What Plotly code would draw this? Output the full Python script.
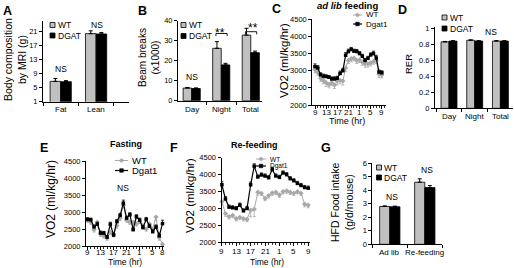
import plotly.graph_objects as go

W, H = 514, 268
FONT = "Liberation Sans, Arial, sans-serif"
BAR_GRAY = "#c0c0c0"
LINE_GRAY = "#a8a8a8"

# ---------------- data ----------------
a_categories = ["Fat", "Lean"]
a_wt = [6.8, 20.4]
a_wt_err = [0.8, 0.8]
a_dgat = [6.7, 20.3]
a_dgat_err = [0.3, 0.4]
a_yticks = [1, 5, 9, 13, 17, 21]

b_categories = ["Day", "Night", "Total"]
b_wt = [6.3, 26.2, 32.8]
b_wt_err = [0.3, 3.3, 3.4]
b_dgat = [6.1, 17.9, 24.0]
b_dgat_err = [0.3, 0.8, 0.8]
b_yticks = [0, 10, 20, 30, 40]

c_hours = [9, 10, 11, 12, 13, 14, 15, 16, 17, 18, 19, 20, 21, 22, 23, 24, 25, 26, 27, 28, 29, 30, 31, 32, 33]
c_wt = [3030, 2950, 2780, 2720, 2650, 2600, 2650, 2580, 2700, 2720, 2700, 3080, 3300, 3350, 3370, 3300,
        3320, 3250, 3200, 3200, 3230, 3270, 3300, 2900, 2880]
c_wt_err = [90, 80, 90, 100, 110, 100, 90, 100, 110, 100, 120, 100, 90, 90, 80, 90, 80, 90, 100, 90,
            90, 80, 90, 100, 90]
c_dgat = [3120, 3080, 2880, 2840, 2830, 2810, 2760, 2760, 2780, 2920, 3000, 3450, 3560, 3620, 3570, 3560,
          3500, 3420, 3300, 3360, 3460, 3500, 3370, 2960, 2940]
c_dgat_err = [80, 70, 60, 60, 50, 50, 60, 60, 60, 70, 70, 80, 70, 60, 60, 60, 60, 60, 60, 60, 60, 70,
              80, 60, 60]
c_tickvals = [9, 13, 17, 21, 25, 29, 33]
c_ticktext = ["9", "13", "17", "21", "1", "5", "9"]

d_categories = ["Day", "Night", "Total"]
d_wt = [0.83, 0.85, 0.84]
d_wt_err = [0.005, 0.005, 0.005]
d_dgat = [0.84, 0.84, 0.84]
d_dgat_err = [0.004, 0.004, 0.004]
d_yticks = [0, 0.2, 0.4, 0.6, 0.8, 1]

e_hours = [9, 10, 11, 12, 13, 14, 15, 16, 17, 18, 19, 20, 21, 22, 23, 24, 25, 26, 27, 28, 29, 30, 31, 32]
e_wt = [2760, 2700, 2480, 2700, 2350, 2300, 2230, 2400, 2330, 2600, 2820, 3200, 2760, 2700, 2700, 2650,
        2720, 2600, 2500, 2650, 2500, 2850, 2250, 2050]
e_wt_err = [60, 60, 70, 60, 70, 60, 60, 60, 60, 80, 70, 80, 60, 60, 70, 60, 60, 60, 60, 70, 70, 90, 80, 60]
e_dgat = [2780, 2770, 2560, 2640, 2380, 2380, 2260, 2640, 2320, 2720, 2900, 3260, 2820, 2920, 2480, 2860,
          2760, 2540, 2780, 2580, 2420, 2560, 2300, 2660]
e_dgat_err = [50, 50, 60, 60, 60, 50, 50, 60, 50, 60, 60, 90, 60, 60, 60, 60, 60, 60, 60, 60, 60, 60, 80, 100]
e_tickvals = [9, 13, 17, 21, 25, 29, 32]
e_ticktext = ["9", "13", "17", "21", "1", "5", "8"]

f_hours = [9, 10, 11, 12, 13, 14, 15, 16, 17, 18, 19, 20, 21, 22, 23, 24, 25, 26, 27, 28, 29, 30, 31, 32, 33]
f_wt = [3200, 2850, 2760, 2800, 2700, 2740, 2700, 2680, 2950, 2980, 3480, 3450, 3300, 3380, 3460, 3480,
        3400, 3500, 3520, 3480, 3450, 3500, 3450, 3130, 3100]
f_wt_err = [90, 80, 70, 70, 70, 70, 70, 70, 200, 220, 80, 70, 70, 70, 70, 70, 70, 70, 70, 70, 70, 70,
            70, 80, 80]
f_dgat = [3700, 3280, 3040, 3020, 3000, 3100, 2930, 3000, 3700, 4250, 3930, 3990, 3960, 3910, 4150, 3960,
          3920, 4050, 4000, 3880, 3820, 3740, 3680, 3620, 3600]
f_dgat_err = [90, 70, 60, 60, 60, 60, 60, 60, 80, 70, 60, 60, 60, 60, 70, 60, 60, 60, 60, 60, 60, 60,
              60, 60, 60]
f_tickvals = [9, 13, 17, 21, 25, 29, 33]
f_ticktext = ["9", "13", "17", "21", "1", "5", "9"]

vo2_ticks = [2000, 2500, 3000, 3500, 4000, 4500]

g_categories = ["Ad lib", "Re-feeding"]
g_wt = [2.8, 4.6]
g_wt_err = [0.05, 0.25]
g_dgat = [2.78, 4.2]
g_dgat_err = [0.05, 0.15]
g_yticks = [0, 1, 2, 3, 4, 5, 6]

# ---------------- helpers ----------------
fig = go.Figure()
layout = dict(width=W, height=H, autosize=False, margin=dict(l=0, r=0, t=0, b=0),
              paper_bgcolor="white", plot_bgcolor="white", showlegend=False,
              font=dict(family=FONT, color="black", size=8), shapes=[], annotations=[])


def xd(a, b):
    return [a / W, b / W]


def yd(top, bottom):
    return [1 - bottom / H, 1 - top / H]


def axn(n, k):
    return k if n == 1 else f"{k}{n}"


def lkey(n, k):
    return f"{k}axis" if n == 1 else f"{k}axis{n}"


def common(size=8):
    return dict(showline=True, linecolor="black", linewidth=1, ticks="outside", ticklen=3,
                tickwidth=1, tickcolor="black", showgrid=False, zeroline=False, fixedrange=True,
                tickangle=0, automargin=False,
                tickfont=dict(size=size, family=FONT, color="black"))


def ann(text, x, y, size=8, xanchor="center", yanchor="middle", angle=0):
    layout["annotations"].append(dict(text=text, x=x / W, y=1 - y / H, xref="paper", yref="paper",
                                      showarrow=False, font=dict(size=size, family=FONT, color="black"),
                                      xanchor=xanchor, yanchor=yanchor, textangle=angle))


def xlabels(n, vals, texts, ypx, size=8):
    # tick labels of an x axis, placed at the axis' own data positions
    for v, t in zip(vals, texts):
        layout["annotations"].append(dict(text=t, x=v, y=1 - ypx / H, xref=axn(n, "x"), yref="paper",
                                          showarrow=False, xanchor="center", yanchor="middle",
                                          font=dict(size=size, family=FONT, color="black")))


def bar_panel(n, cats, wt, wt_err, dg, dg_err, w, xpx, ypx, xrange, yrange, yticks, label_y):
    xa, ya = axn(n, "x"), axn(n, "y")
    zeros = [0] * len(cats)
    for vals, errs, color, off in [(wt, wt_err, BAR_GRAY, -w), (dg, dg_err, "black", 0)]:
        fig.add_trace(go.Bar(x=cats, y=vals, width=w, offset=off,
                             marker=dict(color=color, line=dict(color="black", width=0.8)),
                             error_y=dict(type="data", array=errs, arrayminus=zeros, symmetric=False,
                                          color="black", thickness=1, width=2),
                             xaxis=xa, yaxis=ya, hoverinfo="skip"))
    layout[lkey(n, "x")] = dict(common(8), domain=xd(*xpx), range=xrange, type="category",
                                anchor=ya, tickson="boundaries", showticklabels=False)
    layout[lkey(n, "y")] = dict(common(7.5), domain=yd(*ypx), range=yrange, tickvals=yticks, anchor=xa)
    xlabels(n, cats, cats, label_y, 8)


def line_panel(n, hours, wt, wt_err, dg, dg_err, xpx, ypx, xrange, tickvals, ticktext, label_y, tsize=7.5):
    xa, ya = axn(n, "x"), axn(n, "y")
    zeros = [0] * len(hours)
    fig.add_trace(go.Scatter(x=hours, y=wt, mode="lines+markers", line=dict(color=LINE_GRAY, width=1),
                             marker=dict(symbol="diamond", size=4, color=LINE_GRAY),
                             error_y=dict(type="data", array=zeros, arrayminus=wt_err, symmetric=False,
                                          color=LINE_GRAY, thickness=0.8, width=1.5),
                             xaxis=xa, yaxis=ya, hoverinfo="skip", cliponaxis=False))
    fig.add_trace(go.Scatter(x=hours, y=dg, mode="lines+markers", line=dict(color="black", width=1.2),
                             marker=dict(symbol="square", size=3.5, color="black"),
                             error_y=dict(type="data", array=dg_err, arrayminus=zeros, symmetric=False,
                                          color="black", thickness=0.8, width=1.5),
                             xaxis=xa, yaxis=ya, hoverinfo="skip", cliponaxis=False))
    layout[lkey(n, "x")] = dict(common(tsize), domain=xd(*xpx), range=xrange, tickvals=tickvals,
                                anchor=ya, showticklabels=False,
                                minor=dict(ticks="outside", ticklen=2, tickmode="linear", tick0=9, dtick=1,
                                           tickcolor="black", tickwidth=0.8))
    layout[lkey(n, "y")] = dict(common(tsize), domain=yd(*ypx), range=[2000, 4500], tickvals=vo2_ticks,
                                tickformat="d", anchor=xa)
    xlabels(n, tickvals, ticktext, label_y, 8)


def bar_legend(x, y_wt, y_dg, size=8.5):
    for yy, col, label in [(y_wt, BAR_GRAY, "WT"), (y_dg, "black", "DGAT")]:
        layout["shapes"].append(dict(type="rect", xref="paper", yref="paper", x0=x / W, x1=(x + 5) / W,
                                     y0=1 - (yy + 2.5) / H, y1=1 - (yy - 2.5) / H, fillcolor=col,
                                     line=dict(color="black", width=0.8)))
        ann(label, x + 5.5, yy, size, xanchor="left")


def line_legend(x0, x1, y_wt, y_dg, size):
    xc = (x0 + x1) / 2
    for yy, col, label, shp, wd in [(y_wt, LINE_GRAY, "WT", "circle", 1), (y_dg, "black", "Dgat1", "rect", 1.2)]:
        layout["shapes"].append(dict(type="line", xref="paper", yref="paper", x0=x0 / W, x1=x1 / W,
                                     y0=1 - yy / H, y1=1 - yy / H, line=dict(color=col, width=wd)))
        layout["shapes"].append(dict(type=shp, xref="paper", yref="paper", x0=(xc - 1.8) / W,
                                     x1=(xc + 1.8) / W, y0=1 - (yy + 1.8) / H, y1=1 - (yy - 1.8) / H,
                                     fillcolor=col, line=dict(color=col, width=0.5)))
        ann(label, x1 + 1.5, yy, size, xanchor="left")


# ---------------- panels ----------------
bar_panel(1, a_categories, a_wt, a_wt_err, a_dgat, a_dgat_err, 0.3, (43, 129), (21, 101.7),
          [-0.5, 1.93], [1, 24], a_yticks, 109)
bar_panel(2, b_categories, b_wt, b_wt_err, b_dgat, b_dgat_err, 0.29, (178, 262.3), (20.7, 100.7),
          [-0.464, 2.39], [0, 40], b_yticks, 110)
line_panel(3, c_hours, c_wt, c_wt_err, c_dgat, c_dgat_err, (312.3, 386), (19.3, 105),
           [8.03, 34.5], c_tickvals, c_ticktext, 112.5)
bar_panel(4, d_categories, d_wt, d_wt_err, d_dgat, d_dgat_err, 0.31, (435, 513), (26.5, 108.3),
          [-0.545, 2.49], [0, 1.022], d_yticks, 116.5)
line_panel(5, e_hours, e_wt, e_wt_err, e_dgat, e_dgat_err, (86, 164), (161, 246),
           [8.54, 32.46], e_tickvals, e_ticktext, 252)
line_panel(6, f_hours, f_wt, f_wt_err, f_dgat, f_dgat_err, (221.5, 310), (157.7, 242.3),
           [8.9, 33.5], f_tickvals, f_ticktext, 251)
bar_panel(7, g_categories, g_wt, g_wt_err, g_dgat, g_dgat_err, 0.29, (372.3, 442.3), (163.3, 244.3),
          [-0.5, 1.5], [0, 6], g_yticks, 252)

# significance brackets in B (Night, Total)
for i, yb in [(1, 33.6), (2, 34.5)]:
    for (x0, y0, x1, y1) in [(i - 0.18, yb - 1.3, i - 0.18, yb), (i - 0.18, yb, i + 0.2, yb),
                             (i + 0.2, yb, i + 0.2, yb - 1.3)]:
        layout["shapes"].append(dict(type="line", xref="x2", yref="y2", x0=x0, y0=y0, x1=x1, y1=y1,
                                     line=dict(color="black", width=0.9)))
ann("**", 219.5, 32.5, 12)
ann("**", 253, 28, 12)

# panel letters
for letter, x, y in [("A", 7.5, 11), ("B", 142, 11), ("C", 276, 9), ("D", 402, 10),
                     ("E", 44, 148), ("F", 174, 148), ("G", 326, 148)]:
    ann(f"<b>{letter}</b>", x, y, 12.5)

# y-axis titles
ann("Body composition<br>by MRI (g)", 15, 60, 10.5, angle=-90)
ann("Beam breaks<br>(x1000)", 149, 58, 10, angle=-90)
ann("VO2 (ml/kg/hr)", 284, 61, 11.5, angle=-90)
ann("RER", 408, 64, 9.5, angle=-90)
ann("VO2 (ml/kg/hr)", 51, 199, 12, angle=-90)
ann("VO2 (ml/kg/hr)", 190, 196, 11.5, angle=-90)
ann("HFD Food intake<br>(g/d/mouse)", 342, 202, 10.5, angle=-90)

# x-axis titles
ann("Time (hr)", 347, 121, 9)
ann("Time (hr)", 125, 261.5, 8.5)
ann("Time (hr)", 267, 261.5, 8.5)

# panel titles
ann("<b><i>ad lib</i> feeding</b>", 347, 6, 9.5)
ann("<b>Fasting</b>", 126, 144, 9)
ann("<b>Re-feeding</b>", 254, 145, 9)

# legends
bar_legend(50, 25, 35.5)
bar_legend(181, 25, 36)
bar_legend(442, 17.5, 28.5)
bar_legend(376.5, 167.5, 177.5)
line_legend(353, 362, 15, 24, 8)
line_legend(115, 128, 160.5, 170.5, 9.5)
line_legend(256, 266, 159, 166, 6.5)

# NS labels
ann("NS", 61, 69, 8.5)
ann("NS", 97, 25, 8.5)
ann("NS", 191.7, 77.3, 8.5)
ann("NS", 491, 31.7, 8.5)
ann("NS", 123, 187.7, 8.5)
ann("NS", 391.7, 196.7, 8.5)
ann("NS", 427.3, 170, 8.5)

fig.update_layout(**layout)
fig.write_html("out.html", config={"displayModeBar": False, "staticPlot": True},
               post_script="document.body.style.margin='0';document.body.style.padding='0';")
